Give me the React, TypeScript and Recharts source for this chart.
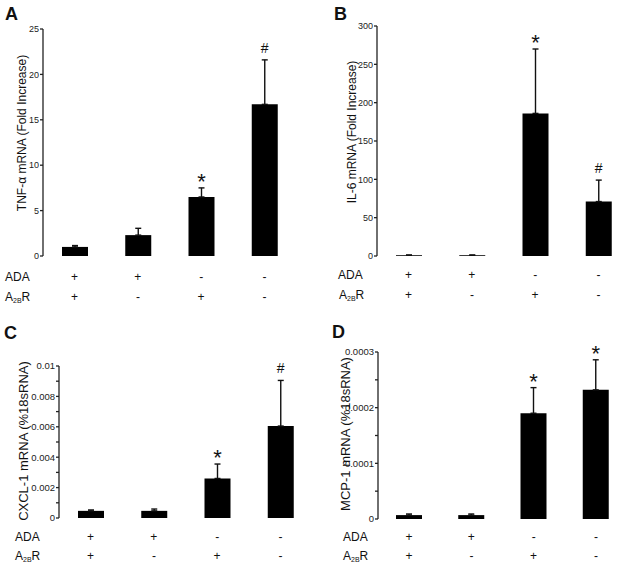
import { Bar, BarChart, ErrorBar, LabelList, XAxis, YAxis } from "recharts"

const FONT = "'Liberation Sans', Arial, sans-serif"

// treatment groups and the +/- table below each panel
const groups = ["g1", "g2", "g3", "g4"]
const adaSigns = ["+", "+", "-", "-"]
const a2bSigns = ["+", "-", "+", "-"]

// A: TNF-a
const tnfValues = [1.0, 2.3, 6.5, 16.7]
const tnfErrors = [0.15, 0.75, 1.0, 4.9]
const tnfMarks = ["", "", "*", "#"]
const tnfTicks = [0, 5, 10, 15, 20, 25]

// B: IL-6
const il6Values = [1, 1, 186, 71]
const il6Errors = [0.3, 0.3, 84, 28]
const il6Marks = ["", "", "*", "#"]
const il6Ticks = [0, 50, 100, 150, 200, 250, 300]

// C: CXCL-1
const cxclValues = [0.00047, 0.00047, 0.0026, 0.00605]
const cxclErrors = [0.00006, 0.00012, 0.00095, 0.003]
const cxclMarks = ["", "", "*", "#"]
const cxclTicks = [0, 0.001, 0.002, 0.003, 0.004, 0.005, 0.006, 0.007, 0.008, 0.009, 0.01]
const cxclLabels = [0, 0.002, 0.004, 0.006, 0.008, 0.01]

// D: MCP-1
const mcpValues = [0.000007, 0.000007, 0.00019, 0.000232]
const mcpErrors = [0.000002, 0.000002, 0.000046, 0.000054]
const mcpMarks = ["", "", "*", "*"]
const mcpTicks = [0, 0.00005, 0.0001, 0.00015, 0.0002, 0.00025, 0.0003]
const mcpLabels = [0, 0.0001, 0.0002, 0.0003]

type PanelProps = {
  values: number[]
  errors: number[]
  marks: string[]
  ticks: number[]
  labels: number[]
  box: { left: number; top: number; width: number; height: number }
  margin: { top: number; right: number }
  yWidth: number
  xHeight: number
  tickFont: number
  rows: [number, number]
}

function Panel(p: PanelProps) {
  const data = groups.map((g, i) => ({
    group: g,
    value: p.values[i],
    err: [0, p.errors[i]],
    mark: p.marks[i],
  }))

  const SignTick = (props: any) => {
    const { x, y, payload } = props
    const i = groups.indexOf(payload.value)
    return (
      <g fontFamily={FONT} fontSize={12} fill="#111">
        <text x={x} y={y + p.rows[0]} textAnchor="middle" dominantBaseline="central">{adaSigns[i]}</text>
        <text x={x} y={y + p.rows[1]} textAnchor="middle" dominantBaseline="central">{a2bSigns[i]}</text>
      </g>
    )
  }

  const MarkLabel = (props: any) => {
    const vb = props.viewBox ?? props
    const { x, y, width, height } = vb
    const i = props.index
    const mark = p.marks[i]
    if (!mark) return null
    const h = Math.abs(height)
    const top = y - p.errors[i] * (h / p.values[i])
    const star = mark === "*"
    return (
      <text
        x={x + width / 2}
        y={star ? top + 1 : top - 7}
        textAnchor="middle"
        fontFamily={FONT}
        fontSize={star ? 22 : 14}
        fill="#111"
      >
        {mark}
      </text>
    )
  }

  return (
    <div style={{ position: "absolute", left: p.box.left, top: p.box.top }}>
      <BarChart
        width={p.box.width}
        height={p.box.height}
        data={data}
        barSize={26}
        margin={{ top: p.margin.top, right: p.margin.right, left: 0, bottom: 0 }}
      >
        <XAxis
          xAxisId="grid"
          type="number"
          domain={[0, 4]}
          ticks={[1, 2, 3]}
          tickSize={3}
          tickFormatter={() => ""}
          height={0}
          stroke="#222"
          strokeWidth={1.3}
          allowDataOverflow
        />
        <XAxis
          xAxisId="cat"
          dataKey="group"
          axisLine={false}
          tickLine={false}
          tickSize={0}
          tickMargin={0}
          height={p.xHeight}
          tick={<SignTick />}
          interval={0}
        />
        <YAxis
          width={p.yWidth}
          domain={[p.ticks[0], p.ticks[p.ticks.length - 1]]}
          ticks={p.ticks}
          interval={0}
          tickSize={3}
          tickMargin={1}
          stroke="#222"
          strokeWidth={1.3}
          tick={{ fontSize: p.tickFont, fontFamily: FONT, fill: "#222" }}
          tickFormatter={(v: number) => (p.labels.includes(v) ? String(v) : "")}
        />
        <Bar xAxisId="cat" dataKey="value" fill="#000" isAnimationActive={false}>
          <ErrorBar dataKey="err" direction="y" width={3} stroke="#111" strokeWidth={1.4} />
          <LabelList dataKey="mark" content={<MarkLabel />} />
        </Bar>
      </BarChart>
    </div>
  )
}

function A2BR({ x, y }: { x: number; y: number }) {
  return (
    <text x={x} y={y} dominantBaseline="central" fontSize={12}>
      A<tspan fontSize={7} dy={3}>2B</tspan>
      <tspan dy={-3}>R</tspan>
    </text>
  )
}

export default function App() {
  return (
    <div style={{ position: "absolute", left: 0, top: 0, width: 635, height: 567, background: "#fff" }}>
      <Panel
        values={tnfValues} errors={tnfErrors} marks={tnfMarks} ticks={tnfTicks} labels={tnfTicks}
        box={{ left: 0, top: 0, width: 317, height: 312 }}
        margin={{ top: 29, right: 21 }} yWidth={43} xHeight={56} tickFont={9} rows={[21, 41]}
      />
      <Panel
        values={il6Values} errors={il6Errors} marks={il6Marks} ticks={il6Ticks} labels={il6Ticks}
        box={{ left: 317, top: 0, width: 318, height: 312 }}
        margin={{ top: 26, right: 5 }} yWidth={60} xHeight={56} tickFont={9} rows={[19, 39]}
      />
      <Panel
        values={cxclValues} errors={cxclErrors} marks={cxclMarks} ticks={cxclTicks} labels={cxclLabels}
        box={{ left: 0, top: 300, width: 317, height: 267 }}
        margin={{ top: 66, right: 5 }} yWidth={59} xHeight={49} tickFont={9.5} rows={[19, 38]}
      />
      <Panel
        values={mcpValues} errors={mcpErrors} marks={mcpMarks} ticks={mcpTicks} labels={mcpLabels}
        box={{ left: 317, top: 300, width: 318, height: 267 }}
        margin={{ top: 52, right: 8 }} yWidth={61} xHeight={48} tickFont={9.5} rows={[18, 37]}
      />
      <svg
        width={635}
        height={567}
        style={{ position: "absolute", left: 0, top: 0, pointerEvents: "none" }}
        fontFamily={FONT}
        fill="#111"
      >
        <g fontSize={18} fontWeight="bold">
          <text x={5} y={20}>A</text>
          <text x={334} y={20}>B</text>
          <text x={4} y={339}>C</text>
          <text x={332} y={338}>D</text>
        </g>
        <g textAnchor="middle" dominantBaseline="central">
          <text transform="translate(22,133) rotate(-90)" fontSize={12}>TNF-α mRNA (Fold Increase)</text>
          <text transform="translate(352,132) rotate(-90)" fontSize={12}>IL-6 mRNA (Fold Increase)</text>
          <text transform="translate(23,441) rotate(-90)" fontSize={13}>CXCL-1 mRNA (%18sRNA)</text>
          <text transform="translate(345,434) rotate(-90)" fontSize={13}>MCP-1 mRNA (%18sRNA)</text>
        </g>
        <g fontSize={12} dominantBaseline="central">
          <text x={5} y={277}>ADA</text>
          <text x={338} y={275}>ADA</text>
          <text x={15} y={537}>ADA</text>
          <text x={343} y={537}>ADA</text>
        </g>
        <A2BR x={5} y={297} />
        <A2BR x={339} y={295} />
        <A2BR x={15} y={556} />
        <A2BR x={343} y={556} />
      </svg>
    </div>
  )
}
